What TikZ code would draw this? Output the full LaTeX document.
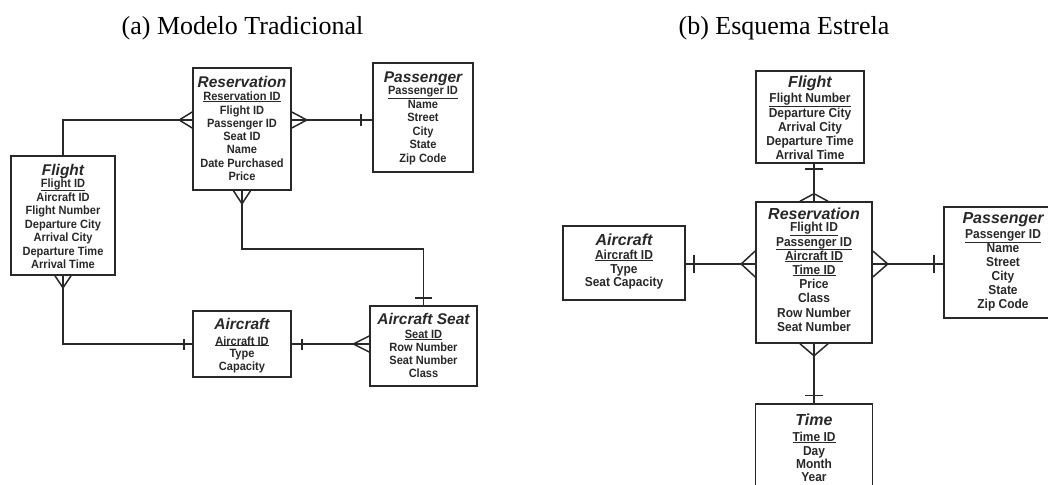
\documentclass[tikz,border=0pt]{standalone}
\usepackage{fontspec}
\setmainfont{Liberation Serif}
\newfontfamily\hvbody[FakeStretch=0.92]{Liberation Sans}
\newfontfamily\hvtitle{Liberation Sans}
\usetikzlibrary{calc}
\definecolor{ink}{RGB}{40,40,40}

% key attribute: text with a rule just below it
\newcommand\keyf[1]{\setbox0\hbox{#1}\rlap{\rule[-\dimexpr\dp0+1.3pt\relax]{\wd0}{1.1pt}}\box0}

% crow's foot: #1 point on box edge, #2 outward angle, #3 length, #4 half spread
\newcommand\crowft[4]{%
  \draw[link] ($#1+(#2:#3)$) -- ($#1+(#2+90:#4)$)
              ($#1+(#2:#3)$) -- ($#1+(#2-90:#4)$);}
% "one" bar: #1 point on box edge, #2 outward angle, #3 offset, #4 half length
\newcommand\onebar[4]{%
  \draw[link] ($#1+(#2:#3)+(#2+90:#4)$) -- ($#1+(#2:#3)+(#2-90:#4)$);}

% attribute lines of an entity: #1 prefix, #2 style, #3 x, #4 first y, #5 step, #6 list
\newcommand\fields[6]{%
  \foreach \f [count=\i] in {#6}
    \node[#2] (#1-\i) at (#3,{#4+(\i-1)*#5}) {\f};}

\tikzset{
  ent/.style={draw=ink, line width=1.6pt, inner sep=0pt},
  link/.style={draw=ink, line width=1.5pt},
  capt/.style={font=\fontsize{26}{30}\selectfont, text=black, inner sep=0pt, anchor=base},
  ttlA/.style={font=\hvtitle\bfseries\itshape\fontsize{15.5}{17}\selectfont, text=ink,
    inner sep=0pt, text height=11.1pt, text depth=0pt},
  ttlB/.style={font=\hvtitle\bfseries\itshape\fontsize{16}{18}\selectfont, text=ink,
    inner sep=0pt, text height=11.5pt, text depth=0pt},
  rowA/.style={font=\hvbody\bfseries\fontsize{12}{13}\selectfont, text=ink,
    inner sep=0pt, text height=8.6pt, text depth=0pt},
  rowB/.style={font=\hvbody\bfseries\fontsize{13}{14}\selectfont, text=ink,
    inner sep=0pt, text height=9.3pt, text depth=0pt},
}

\begin{document}
\begin{tikzpicture}[x=1pt, y=-1pt]
\useasboundingbox (0,0) rectangle (1048,484);
\clip (0,0) rectangle (1048,484);

% captions
\node[capt] (capA) at (242.5,35) {(a) Modelo Tradicional};
\node[capt] (capB) at (784,35) {(b) Esquema Estrela};

% ---------- (a) traditional model ----------
\node[ent, minimum width=98pt,  minimum height=122pt] (resA)  at (242,129) {};
\node[ent, minimum width=100pt, minimum height=109pt] (pasA)  at (423,117.5) {};
\node[ent, minimum width=104pt, minimum height=119pt] (fltA)  at (63,215.5) {};
\node[ent, minimum width=98pt,  minimum height=66pt]  (airA)  at (242,344) {};
\node[ent, minimum width=107pt, minimum height=80pt]  (seatA) at (423.5,346) {};

\node[ttlA] (resA-t) at (242,82) {Reservation};
\fields{resA}{rowA}{242}{96.7}{13.2}{\keyf{Reservation ID}, Flight ID, Passenger ID, Seat ID, Name, Date Purchased, Price}
\node[ttlA] (pasA-t) at (423,76.7) {Passenger};
\fields{pasA}{rowA}{423}{90.7}{13.4}{\keyf{Passenger ID}, Name, Street, City, State, Zip Code}
\node[ttlA] (fltA-t) at (63,170) {Flight};
\fields{fltA}{rowA}{63}{183.3}{13.5}{\keyf{Flight ID}, Aircraft ID, Flight Number, Departure City, Arrival City, Departure Time, Arrival Time}
\node[ttlA] (airA-t) at (242,324.3) {Aircraft};
\fields{airA}{rowA}{242}{340.7}{12.7}{\keyf{Aircraft ID}, Type, Capacity}
\node[ttlA] (seatA-t) at (423.5,319.3) {Aircraft Seat};
\fields{seatA}{rowA}{423.5}{334.3}{13}{\keyf{Seat ID}, Row Number, Seat Number, Class}

\coordinate (resA-e) at ([yshift=9pt]resA.east);
\coordinate (resA-w) at ([yshift=9pt]resA.west);
\coordinate (pasA-w) at (resA-e -| pasA.west);
\coordinate (seatA-w) at (airA.east -| seatA.west);

% Reservation -- Passenger
\draw[link] (resA-e) -- (pasA-w);
\crowft{(resA-e)}{0}{15}{8}
\onebar{(pasA-w)}{180}{11}{5.5}
% Flight -- Reservation
\draw[link] (fltA.north) |- (resA-w);
\crowft{(resA-w)}{180}{13}{8}
% Reservation -- Aircraft Seat
\draw[link] (resA.south) -- ++(0,58.3) -| (seatA.north);
\crowft{(resA.south)}{90}{13}{8.5}
\onebar{(seatA.north)}{270}{7}{8.5}
% Flight -- Aircraft
\draw[link] (fltA.south) |- (airA.west);
\crowft{(fltA.south)}{90}{12}{8}
\onebar{(airA.west)}{180}{8}{5.5}
% Aircraft -- Aircraft Seat
\draw[link] (airA.east) -- (seatA-w);
\onebar{(airA.east)}{0}{10}{5.5}
\crowft{(seatA-w)}{180}{16}{8}

% ---------- (b) star schema ----------
\node[ent, minimum width=108pt, minimum height=92pt]  (fltB)  at (810,117) {};
\node[ent, minimum width=116pt, minimum height=141pt] (resB)  at (814,272.5) {};
\node[ent, minimum width=118pt, minimum height=111pt] (pasB)  at (1003,262.5) {};
\node[ent, minimum width=122pt, minimum height=74pt]  (airB)  at (624,263) {};
\node[ent, minimum width=117pt, minimum height=106pt] (timeB) at (814,457) {};

\node[ttlB] (fltB-t) at (810,81.7) {Flight};
\fields{fltB}{rowB}{810}{98.3}{14.1}{\keyf{Flight Number}, Departure City, Arrival City, Departure Time, Arrival Time}
\node[ttlB] (resB-t) at (814,213.3) {Reservation};
\fields{resB}{rowB}{814}{227.3}{14.2}{\keyf{Flight ID}, \keyf{Passenger ID}, \keyf{Aircraft ID}, \keyf{Time ID}, Price, Class, Row Number, Seat Number}
\node[ttlB] (pasB-t) at (1003,217.3) {Passenger};
\fields{pasB}{rowB}{1003}{234}{14}{\keyf{Passenger ID}, Name, Street, City, State, Zip Code}
\node[ttlB] (airB-t) at (624,239.3) {Aircraft};
\fields{airB}{rowB}{624}{255}{13.6}{\keyf{Aircraft ID}, Type, Seat Capacity}
\node[ttlB] (timeB-t) at (814,420) {Time};
\fields{timeB}{rowB}{814}{437.3}{13.1}{\keyf{Time ID}, Day, Month, Year}

\coordinate (resB-e) at ([yshift=8.5pt]resB.east);
\coordinate (resB-w) at ([yshift=8.5pt]resB.west);
\coordinate (pasB-w) at (resB-e -| pasB.west);
\coordinate (airB-e) at (resB-w -| airB.east);
\coordinate (fltB-s) at (resB.north |- fltB.south);

% Flight -- Reservation
\draw[link] (fltB-s) -- (resB.north);
\onebar{(fltB-s)}{90}{5.3}{9}
\crowft{(resB.north)}{270}{7.5}{14}
% Aircraft -- Reservation
\draw[link] (airB-e) -- (resB-w);
\onebar{(airB-e)}{0}{8}{9}
\crowft{(resB-w)}{180}{14}{13}
% Reservation -- Passenger
\draw[link] (resB-e) -- (pasB-w);
\crowft{(resB-e)}{0}{15}{13}
\onebar{(pasB-w)}{180}{9}{9}
% Reservation -- Time
\draw[link] (resB.south) -- (timeB.north);
\crowft{(resB.south)}{90}{12}{14}
\onebar{(timeB.north)}{270}{7.6}{9}
\end{tikzpicture}
\end{document}
